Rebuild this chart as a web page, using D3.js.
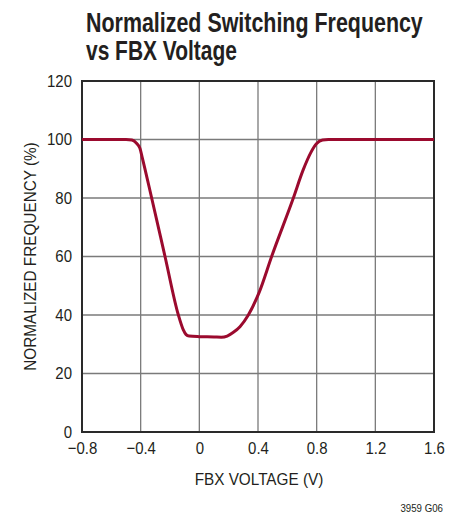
<!DOCTYPE html>
<html><head><meta charset="utf-8">
<script src="https://cdn.jsdelivr.net/npm/d3@7"></script>
<style>body{margin:0;background:#fff}svg{display:block}</style>
</head><body>
<svg id="c" width="465" height="515"></svg>
<script>
const titleLines = ["Normalized Switching Frequency", "vs FBX Voltage"];
const xTicks = [-0.8, -0.4, 0, 0.4, 0.8, 1.2, 1.6];
const xTickLabels = ["\u22120.8", "\u22120.4", "0", "0.4", "0.8", "1.2", "1.6"];
const yTicks = [0, 20, 40, 60, 80, 100, 120];
const voltage = [-0.8, -0.5, -0.46, -0.43, -0.405, -0.39, -0.325, -0.234, -0.143, -0.11, -0.09, -0.07, 0.0, 0.1, 0.15, 0.19, 0.23, 0.277, 0.334, 0.41, 0.493, 0.641, 0.708, 0.76, 0.80, 0.84, 0.88, 1.6];
const frequency = [100, 100, 99.8, 98.8, 97, 94, 80, 60, 40, 35, 33.3, 32.8, 32.6, 32.5, 32.4, 32.8, 34, 36, 40, 48, 60, 80, 89.6, 95.5, 98.6, 99.8, 100, 100];

const svg = d3.select("#c");
const L = 82, R = 434, T = 81, B = 432;
const font = "'Liberation Sans Narrow', 'Liberation Sans', Arial, sans-serif";
const x = d3.scaleLinear().domain([-0.8, 1.6]).range([L, R]);
const y = d3.scaleLinear().domain([0, 120]).range([B, T]);

function narrow(sel, f) {
  sel.each(function () {
    const w = this.getComputedTextLength();
    d3.select(this).attr("textLength", w * f).attr("lengthAdjust", "spacingAndGlyphs");
  });
}

const titleWidths = [337, 151];
svg.selectAll("text.title").data(titleLines).enter().append("text")
  .attr("class", "title")
  .attr("x", 0).attr("y", 0)
  .attr("font-family", font).attr("font-weight", "bold").attr("font-size", 27)
  .attr("fill", "#231f20").text(d => d)
  .each(function (d, i) {
    const w = this.getComputedTextLength();
    d3.select(this).attr("transform", `translate(86,${32 + i * 27.5}) scale(${titleWidths[i] / w},1)`);
  });

const g = svg.append("g");
g.selectAll("line.vx").data(xTicks.slice(1, -1)).enter().append("line")
  .attr("x1", d => x(d)).attr("x2", d => x(d)).attr("y1", T).attr("y2", B)
  .attr("stroke", "#7a7a7a").attr("stroke-width", 1.3);
g.selectAll("line.hy").data(yTicks.slice(1, -1)).enter().append("line")
  .attr("y1", d => y(d)).attr("y2", d => y(d)).attr("x1", L).attr("x2", R)
  .attr("stroke", "#7a7a7a").attr("stroke-width", 1.3);
g.append("rect").attr("x", L).attr("y", T).attr("width", R - L).attr("height", B - T)
  .attr("fill", "none").attr("stroke", "#2a2a2a").attr("stroke-width", 2);

const line = d3.line().x(d => x(d[0])).y(d => y(d[1])).curve(d3.curveMonotoneX);
g.append("path").datum(voltage.map((v, i) => [v, frequency[i]]))
  .attr("d", line).attr("fill", "none").attr("stroke", "#9b0a2e")
  .attr("stroke-width", 3).attr("stroke-linejoin", "round");

const xAxis = d3.axisBottom(x).tickValues(xTicks).tickFormat((d, i) => xTickLabels[i]).tickSize(0).tickPadding(10);
const xa = svg.append("g").attr("transform", `translate(0,${B})`).call(xAxis);
xa.select(".domain").remove();
xa.selectAll("text").attr("font-family", font).attr("font-size", 17).attr("fill", "#231f20").attr("dy", "0.71em");
narrow(xa.selectAll("text"), 0.88);

const yAxis = d3.axisLeft(y).tickValues(yTicks).tickSize(0).tickPadding(10);
const ya = svg.append("g").attr("transform", `translate(${L},0)`).call(yAxis);
ya.select(".domain").remove();
ya.selectAll("text").attr("font-family", font).attr("font-size", 17).attr("fill", "#231f20");
narrow(ya.selectAll("text"), 0.88);

const xt = svg.append("text").attr("x", 259).attr("y", 485).attr("text-anchor", "middle")
  .attr("font-family", font).attr("font-size", 17).attr("fill", "#231f20").text("FBX VOLTAGE (V)");
narrow(xt, 0.9);
const yt = svg.append("text").attr("transform", `translate(36,${(T + B) / 2}) rotate(-90)`).attr("text-anchor", "middle")
  .attr("font-family", font).attr("font-size", 17).attr("fill", "#231f20").text("NORMALIZED FREQUENCY (%)");
narrow(yt, 0.9);
const nt = svg.append("text").attr("x", 443).attr("y", 512).attr("text-anchor", "end")
  .attr("font-family", font).attr("font-size", 11).attr("fill", "#231f20").text("3959 G06");
narrow(nt, 0.88);
</script>
</body></html>
